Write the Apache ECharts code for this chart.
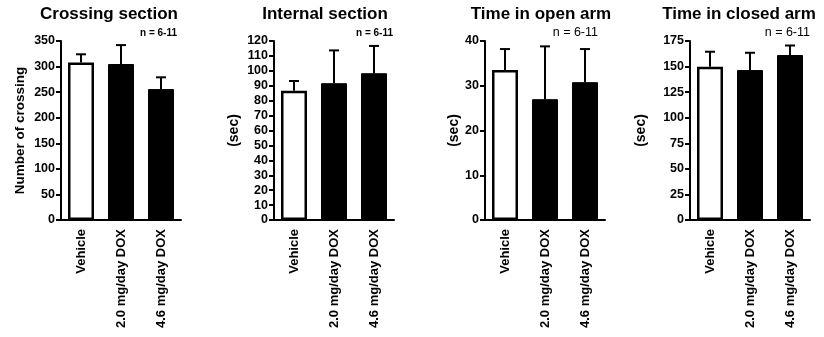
<!DOCTYPE html>
<html>
<head>
<meta charset="utf-8">
<script src="https://cdn.jsdelivr.net/npm/echarts@6/dist/echarts.min.js"></script>
<style>
  html, body { margin: 0; padding: 0; background: #fff; }
  #chart { width: 824px; height: 337px; }
</style>
</head>
<body>
<div id="chart"></div>
<script>
var groups = ['Vehicle', '2.0 mg/day DOX', '4.6 mg/day DOX'];

var panelTitles = ['Crossing section', 'Internal section', 'Time in open arm', 'Time in closed arm'];
var axisNames = ['Number of crossing', '(sec)', '(sec)', '(sec)'];

var crossingMean = [308, 305, 256];
var crossingSem = [16, 37, 23];
var internalMean = [86.7, 91.7, 98.4];
var internalSem = [6.5, 22, 18.3];
var openMean = [33.5, 27.0, 30.8];
var openSem = [4.7, 11.8, 7.4];
var closedMean = [149.9, 146.6, 161.3];
var closedSem = [14.6, 16.9, 9.3];

var yMax = [350, 120, 40, 175];
var yStep = [50, 10, 10, 25];

var means = [crossingMean, internalMean, openMean, closedMean];
var sems = [crossingSem, internalSem, openSem, closedSem];

var font = '"Liberation Sans", Arial, sans-serif';
var gridLeft = [61, 274, 485, 690];
var titleX = [109, 325, 541, 739];
var nameGaps = [34, 33, 24, 42];
var nLabel = [
    {x: 177, size: 10, weight: 'bold'},
    {x: 393, size: 10, weight: 'bold'},
    {x: 598, size: 12.5, weight: 'normal'},
    {x: 810, size: 12.5, weight: 'normal'}
];

var myChart = echarts.init(document.getElementById('chart'));

var grids = [], xAxes = [], yAxes = [], series = [], graphics = [];

means.forEach(function(m, i) {
    grids.push({left: gridLeft[i], width: 120, top: 41, height: 179});

    xAxes.push({
        type: 'category',
        gridIndex: i,
        data: groups,
        axisLine: {lineStyle: {color: '#000', width: 2}},
        axisTick: {alignWithLabel: true, length: 5, lineStyle: {color: '#000', width: 2}},
        axisLabel: {
            rotate: 90,
            margin: 9,
            color: '#000',
            fontFamily: font,
            fontWeight: 'bold',
            fontSize: 13
        }
    });

    yAxes.push({
        type: 'value',
        gridIndex: i,
        min: 0,
        max: yMax[i],
        interval: yStep[i],
        name: axisNames[i],
        nameLocation: 'middle',
        nameGap: nameGaps[i],
        nameTextStyle: {
            color: '#000',
            fontFamily: font,
            fontWeight: 'bold',
            fontSize: i === 0 ? 13.5 : 14
        },
        splitLine: {show: false},
        axisLine: {show: true, lineStyle: {color: '#000', width: 2}},
        axisTick: {show: true, length: 5, lineStyle: {color: '#000', width: 2}},
        axisLabel: {
            margin: 6,
            color: '#000',
            fontFamily: font,
            fontWeight: 'bold',
            fontSize: 12.5
        }
    });

    series.push({
        type: 'bar',
        xAxisIndex: i,
        yAxisIndex: i,
        barWidth: 26,
        silent: true,
        data: m.map(function(v, k) {
            return {
                value: v,
                itemStyle: k === 0
                    ? {color: '#fff', borderColor: '#000', borderWidth: 2.5}
                    : {color: '#000', borderColor: '#000', borderWidth: 1}
            };
        })
    });

    // upper error bars only
    series.push({
        type: 'custom',
        xAxisIndex: i,
        yAxisIndex: i,
        silent: true,
        z: 1,
        data: m.map(function(v, k) { return [k, v, v + sems[i][k]]; }),
        renderItem: function(params, api) {
            var bottom = api.coord([api.value(0), api.value(1)]);
            var top = api.coord([api.value(0), api.value(2)]);
            var half = 5;
            var style = {stroke: '#000', lineWidth: 2};
            return {
                type: 'group',
                children: [
                    {type: 'line', shape: {x1: top[0], y1: top[1], x2: bottom[0], y2: bottom[1]}, style: style},
                    {type: 'line', shape: {x1: top[0] - half, y1: top[1], x2: top[0] + half, y2: top[1]}, style: style}
                ]
            };
        }
    });

    graphics.push({
        type: 'text',
        x: titleX[i],
        y: 14,
        style: {
            text: panelTitles[i],
            fill: '#000',
            font: 'bold 17px ' + font,
            textAlign: 'center',
            textVerticalAlign: 'middle'
        }
    });

    graphics.push({
        type: 'text',
        x: nLabel[i].x,
        y: 33,
        style: {
            text: 'n = 6-11',
            fill: '#000',
            font: nLabel[i].weight + ' ' + nLabel[i].size + 'px ' + font,
            textAlign: 'right',
            textVerticalAlign: 'middle'
        }
    });
});

var option = {
    animation: false,
    backgroundColor: '#fff',
    grid: grids,
    xAxis: xAxes,
    yAxis: yAxes,
    series: series,
    graphic: graphics
};

myChart.setOption(option);
</script>
</body>
</html>
